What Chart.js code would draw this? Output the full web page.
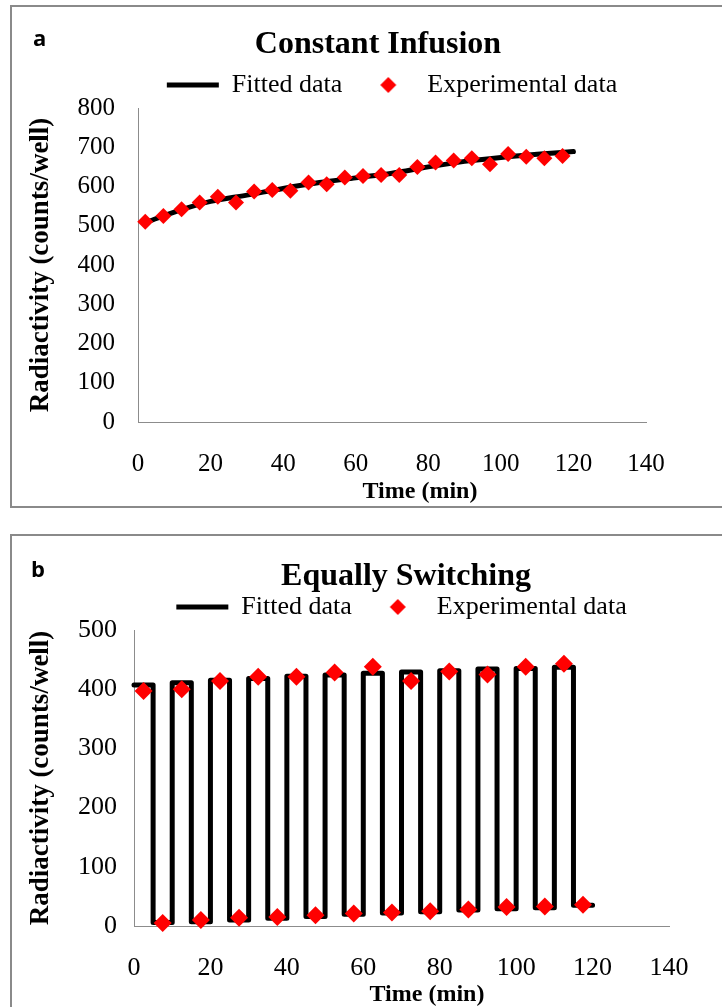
<!DOCTYPE html>
<html>
<head>
<meta charset="utf-8">
<script src="https://cdn.jsdelivr.net/npm/chart.js@4.4.1/dist/chart.umd.min.js"></script>
<style>
  body { margin: 0; width: 722px; height: 1007px; overflow: hidden; background: #fff; position: relative; font-family: "Liberation Serif", serif; color: #000; }
  .marco { position: absolute; left: 10px; width: 760px; border: 2px solid #8a8a8a; box-sizing: border-box; }
  .lienzo { position: absolute; left: 0; }
  .titulo { position: absolute; font-weight: bold; font-size: 32px; line-height: 32px; text-align: center; white-space: nowrap; }
  .letra { position: absolute; font-family: "Open Sans", sans-serif; font-weight: bold; font-size: 22px; line-height: 22px; }
  .eje-x { position: absolute; font-weight: bold; font-size: 24px; line-height: 24px; text-align: center; white-space: nowrap; }
</style>
</head>
<body>
  <div class="marco" style="top:5px;height:503px"></div>
  <div class="marco" style="top:534px;height:600px"></div>

  <canvas id="graficoA" class="lienzo" style="top:0" width="722" height="507"></canvas>
  <canvas id="graficoB" class="lienzo" style="top:507px" width="722" height="500"></canvas>

  <div class="letra" style="left:33px;top:26px">a</div>
  <div class="titulo" style="left:0;width:756px;top:26px">Constant Infusion</div>
  <div class="eje-x" style="left:0;width:840px;top:478px">Time (min)</div>

  <div class="letra" style="left:31px;top:557px">b</div>
  <div class="titulo" style="left:0;width:812px;top:558px">Equally Switching</div>
  <div class="eje-x" style="left:0;width:854px;top:981px">Time (min)</div>

<script>
// Panel a: infusión constante
const tiempoA = [2, 7, 12, 17, 22, 27, 32, 37, 42, 47, 52, 57, 62, 67, 72, 77, 82, 87, 92, 97, 102, 107, 112, 117];
const experimentalA = [510, 525, 542, 559, 574, 559, 587, 591, 589, 610, 606, 623, 627, 629, 629, 650, 661, 666, 672, 657, 683, 676, 672, 678];
const tiempoAjusteA = [2, 10, 20, 30, 40, 50, 60, 70, 80, 90, 100, 110, 120];
const ajusteA = [508, 535, 562, 578, 595, 610, 622, 634, 650, 664, 674, 682, 689];

// Panel b: cambio alterno cada 5 min
const tiempoB = [2.5, 7.5, 12.5, 17.5, 22.5, 27.5, 32.5, 37.5, 42.5, 47.5, 52.5, 57.5, 62.5, 67.5, 72.5, 77.5, 82.5, 87.5, 92.5, 97.5, 102.5, 107.5, 112.5, 117.5];
const experimentalB = [397, 5, 400, 10, 414, 14, 421, 15, 421, 18, 428, 21, 438, 23, 414, 25, 430, 28, 425, 32, 438, 33, 443, 36];
const cambiosB = [0, 5, 10, 15, 20, 25, 30, 35, 40, 45, 50, 55, 60, 65, 70, 75, 80, 85, 90, 95, 100, 105, 110, 115, 120];
const ajusteB = [407, 6, 411, 7, 415, 10, 418, 13, 422, 16, 424, 20, 427, 22, 429, 24, 431, 27, 434, 29, 435, 31, 437, 35, 35];

const ticksX = [0, 20, 40, 60, 80, 100, 120, 140];

const FUENTE = 'Liberation Serif';

function crearRombo(radio) {
  const c = document.createElement('canvas');
  c.width = c.height = radio * 2 + 2;
  const g = c.getContext('2d');
  g.fillStyle = '#ff0000';
  g.beginPath();
  g.moveTo(radio + 1, 1);
  g.lineTo(2 * radio + 1, radio + 1);
  g.lineTo(radio + 1, 2 * radio + 1);
  g.lineTo(1, radio + 1);
  g.closePath();
  g.fill();
  return c;
}

function puntos(xs, ys) {
  return xs.map((x, i) => ({ x, y: ys[i] }));
}

function crearGrafico(id, cfg) {
  const rombo = crearRombo(8);
  const ctx = document.getElementById(id).getContext('2d');
  return new Chart(ctx, {
    type: 'line',
    data: {
      datasets: [
        {
          label: 'Fitted data',
          data: cfg.ajuste,
          borderColor: '#000',
          backgroundColor: '#000',
          borderWidth: 5,
          borderCapStyle: 'round',
          borderJoinStyle: 'round',
          pointRadius: 0,
          tension: cfg.escalon ? 0 : 0.4,
          cubicInterpolationMode: 'monotone',
          stepped: cfg.escalon,
          clip: false,
          order: 2
        },
        {
          label: 'Experimental data',
          data: cfg.experimental,
          showLine: false,
          pointStyle: 'rectRot',
          pointRadius: cfg.radio,
          pointBackgroundColor: '#ff0000',
          pointBorderWidth: 0,
          borderColor: '#ff0000',
          backgroundColor: '#ff0000',
          clip: false,
          order: 1
        }
      ]
    },
    options: {
      responsive: false,
      animation: false,
      events: [],
      layout: { padding: cfg.padding },
      plugins: {
        title: { display: false },
        tooltip: { enabled: false },
        legend: {
          position: 'top',
          fullSize: false,
          labels: {
            usePointStyle: true,
            pointStyleWidth: 52,
            padding: 20,
            color: '#000',
            font: { family: FUENTE, size: 26 },
            sort: (a, b) => a.datasetIndex - b.datasetIndex,
            generateLabels(chart) {
              const items = Chart.defaults.plugins.legend.labels.generateLabels(chart);
              items.forEach(it => {
                if (it.datasetIndex === 0) {
                  it.pointStyle = 'line';
                  it.lineWidth = 5;
                  it.strokeStyle = '#000';
                  it.lineCap = 'butt';
                  it.lineDash = [];
                } else {
                  it.pointStyle = rombo;
                }
              });
              return items;
            }
          }
        }
      },
      scales: {
        x: {
          type: 'linear',
          min: 0,
          max: 140,
          afterBuildTicks: s => { s.ticks = ticksX.map(v => ({ value: v })); },
          ticks: { padding: 27, color: '#000', font: { family: FUENTE, size: cfg.tamTicks }, maxRotation: 0, autoSkip: false },
          grid: { display: false, drawTicks: false },
          border: { color: '#8c8c8c', width: 1 },
          afterFit: s => { s.height = cfg.altoX; }
        },
        y: {
          min: 0,
          max: cfg.maxY,
          ticks: { stepSize: 100, autoSkip: false, padding: cfg.padY, color: '#000', font: { family: FUENTE, size: cfg.tamTicks } },
          grid: { display: false, drawTicks: false },
          border: { color: '#8c8c8c', width: 1 },
          title: {
            display: true,
            text: 'Radiactivity (counts/well)',
            color: '#000',
            font: { family: FUENTE, size: 27, weight: 'bold' },
            padding: { top: 25, bottom: 0 }
          },
          afterFit: s => { s.width = cfg.anchoY; }
        }
      }
    }
  });
}

crearGrafico('graficoA', {
  ajuste: puntos(tiempoAjusteA, ajusteA),
  experimental: puntos(tiempoA, experimentalA),
  escalon: false,
  radio: 8,
  maxY: 800,
  tamTicks: 25,
  padY: 23,
  anchoY: 138,
  altoX: 85,
  padding: { top: 52, left: 0, right: 76, bottom: 0 }
});

crearGrafico('graficoB', {
  ajuste: puntos(cambiosB, ajusteB),
  experimental: puntos(tiempoB, experimentalB),
  escalon: true,
  radio: 9,
  maxY: 500,
  tamTicks: 26,
  padY: 17,
  anchoY: 134,
  altoX: 81,
  padding: { top: 67, left: 0, right: 53, bottom: 0 }
});
</script>
</body>
</html>
